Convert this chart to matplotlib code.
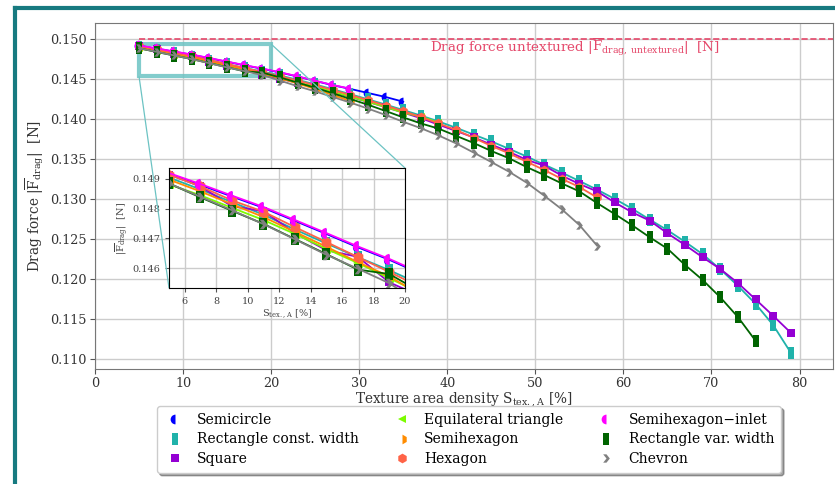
import numpy as np
import matplotlib
matplotlib.use("Agg")
import matplotlib.pyplot as plt
from matplotlib.lines import Line2D
from matplotlib.path import Path
from mpl_toolkits.axes_grid1.inset_locator import mark_inset

plt.rcParams['font.family'] = ['DejaVu Serif']
plt.rcParams['mathtext.fontset'] = 'dejavuserif'

# texture area density values [%]
density = [5, 7, 9, 11, 13, 15, 17, 19, 21, 23, 25, 27, 29, 31, 33, 35, 37, 39,
           41, 43, 45, 47, 49, 51, 53, 55, 57, 59, 61, 63, 65, 67, 69, 71, 73,
           75, 77, 79]

semicircle = [0.14917, 0.14880, 0.14841, 0.14803, 0.14759, 0.14715, 0.14670,
              0.14628, 0.14581, 0.14531, 0.14476, 0.14422, 0.14376, 0.14325,
              0.14275, 0.14216]
rect_const = [0.14905, 0.14865, 0.14822, 0.14780, 0.14730, 0.14683, 0.14637,
              0.14593, 0.14545, 0.14490, 0.14432, 0.14372, 0.14310, 0.14246,
              0.14180, 0.14112, 0.14043, 0.13970, 0.13890, 0.13805, 0.13720,
              0.13628, 0.13532, 0.13430, 0.13330, 0.13225, 0.13118, 0.13002,
              0.12878, 0.12742, 0.12610, 0.12465, 0.12310, 0.12122, 0.11915,
              0.11690, 0.11425, 0.11080]
square = [0.14915, 0.14875, 0.14808, 0.14792, 0.14718, 0.14660, 0.14638,
          0.14552, 0.14505, 0.14452, 0.14396, 0.14338, 0.14277, 0.14214,
          0.14148, 0.14080, 0.14010, 0.13930, 0.13850, 0.13770, 0.13680,
          0.13590, 0.13490, 0.13417, 0.13292, 0.13188, 0.13095, 0.12958,
          0.12833, 0.12729, 0.12571, 0.12425, 0.12271, 0.12125, 0.11950,
          0.11746, 0.11541, 0.11329]
triangle = [0.14882, 0.14845, 0.14803, 0.14762, 0.14715, 0.14665, 0.14617,
            0.14566, 0.14515, 0.14460, 0.14402, 0.14342, 0.14280, 0.14215,
            0.14150, 0.14080, 0.14030, 0.13955]
semihexagon = [0.14898, 0.14858, 0.14815, 0.14772, 0.14722, 0.14672, 0.14620,
               0.14572, 0.14510, 0.14445, 0.14375, 0.14300, 0.14225]
hexagon = [0.14915, 0.14875, 0.14828, 0.14790, 0.14738, 0.14688, 0.14637,
           0.14587, 0.14535, 0.14480, 0.14422, 0.14362, 0.14300, 0.14235,
           0.14168, 0.14098, 0.14025, 0.13945, 0.13863, 0.13765, 0.13663,
           0.13571, 0.13467, 0.13363, 0.13252, 0.13150, 0.13020]
semihex_inlet = [0.14920, 0.14883, 0.14844, 0.14806, 0.14762, 0.14718,
                 0.14673, 0.14631, 0.14584, 0.14534, 0.14479, 0.14425, 0.14379]
rect_var = [0.14885, 0.14838, 0.14793, 0.14749, 0.14698, 0.14647, 0.14595,
            0.14580, 0.14520, 0.14455, 0.14390, 0.14322, 0.14250, 0.14178,
            0.14100, 0.14020, 0.13945, 0.13880, 0.13790, 0.13700, 0.13600,
            0.13510, 0.13400, 0.13300, 0.13195, 0.13095, 0.12950, 0.12813,
            0.12671, 0.12521, 0.12379, 0.12175, 0.11988, 0.11771, 0.11525,
            0.11229]
chevron = [0.14885, 0.14840, 0.14795, 0.14748, 0.14697, 0.14645, 0.14598,
           0.14549, 0.14480, 0.14410, 0.14345, 0.14275, 0.14205, 0.14130,
           0.14050, 0.13965, 0.13885, 0.13795, 0.13695, 0.13580, 0.13462,
           0.13342, 0.13205, 0.13042, 0.12872, 0.12675, 0.12418]

drag_untextured = 0.15005

names = ["Semicircle", "Rectangle const. width", "Square",
         "Equilateral triangle", "Semihexagon", "Hexagon",
         "Semihexagon\u2212inlet", "Rectangle var. width", "Chevron"]

rect_marker = Path([(-0.28, -0.5), (0.28, -0.5), (0.28, 0.5), (-0.28, 0.5), (-0.28, -0.5)],
                   [Path.MOVETO, Path.LINETO, Path.LINETO, Path.LINETO, Path.CLOSEPOLY])
chev_marker = Path([(-0.4, -0.5), (0.0, -0.5), (0.4, 0.0), (0.0, 0.5), (-0.4, 0.5),
                    (0.0, 0.0), (-0.4, -0.5)],
                   [Path.MOVETO] + [Path.LINETO] * 5 + [Path.CLOSEPOLY])

styles = [
    dict(color='blue', marker='o', fillstyle='left', ms=7),
    dict(color='lightseagreen', marker=rect_marker, ms=8),
    dict(color='darkviolet', marker='s', ms=5.5),
    dict(color='lawngreen', marker='<', ms=6),
    dict(color='darkorange', marker='h', fillstyle='right', ms=7),
    dict(color='tomato', marker='h', ms=7),
    dict(color='magenta', marker='o', fillstyle='left', ms=7),
    dict(color='darkgreen', marker=rect_marker, ms=8),
    dict(color='gray', marker=chev_marker, ms=6),
]
series = [semicircle, rect_const, square, triangle, semihexagon, hexagon,
          semihex_inlet, rect_var, chevron]

fig = plt.figure(figsize=(8.35, 4.84), dpi=100)
ax = fig.add_axes([95 / 835, 1 - 369 / 484, (833 - 95) / 835, (369 - 23) / 484])
axins = fig.add_axes([169 / 835, 1 - 288 / 484, (405 - 169) / 835, (288 - 168) / 484])

for a, ms_scale in [(ax, 1.0), (axins, 1.15)]:
    for vals, st in zip(series, styles):
        st = dict(st)
        st['ms'] = st['ms'] * ms_scale
        a.plot(density[:len(vals)], vals, lw=1.3, markerfacecoloralt='none',
               mew=0, **st)

ax.plot([5, 84], [drag_untextured, drag_untextured], ls='--', color='#e5486a', lw=1.2)
ax.text(38, 0.14895, r"Drag force untextured $|\overline{\mathrm{F}}_{\mathrm{drag,\,untextured}}|$  [N]",
        color='#e5486a', fontsize=9.7, va='center')

ax.set_xlim(0, 83.8)
ax.set_ylim(0.10875, 0.1520)
ax.set_xticks([0, 10, 20, 30, 40, 50, 60, 70, 80])
ax.set_yticks([0.110, 0.115, 0.120, 0.125, 0.130, 0.135, 0.140, 0.145, 0.150])
ax.yaxis.set_major_formatter(plt.FormatStrFormatter('%.3f'))
ax.tick_params(labelsize=9.2, color='#555555', labelcolor='#333333', pad=2.5)
ax.grid(True, color='#cccccc', lw=1)
ax.set_axisbelow(True)
ax.set_xlabel(r"Texture area density $\mathrm{S}_{\mathrm{tex.,A}}$ [%]", fontsize=9.8,
              labelpad=0, color='#333333')
ax.set_ylabel(r"Drag force $|\overline{\mathrm{F}}_{\mathrm{drag}}|$  [N]", fontsize=9.8,
              color='#333333', labelpad=3)
for s in ax.spines.values():
    s.set_color('#777777')

axins.set_xlim(5, 20)
axins.set_ylim(0.14533, 0.14937)
axins.set_xticks([6, 8, 10, 12, 14, 16, 18, 20])
axins.set_yticks([0.146, 0.147, 0.148, 0.149])
axins.yaxis.set_major_formatter(plt.FormatStrFormatter('%.3f'))
axins.tick_params(labelsize=7, color='#555555', labelcolor='#444444', length=3)
axins.grid(True, color='#cccccc', lw=1)
axins.set_axisbelow(True)
axins.set_xlabel(r"$\mathrm{S}_{\mathrm{tex.,A}}$ [%]", fontsize=7, labelpad=1, color='#444444')
axins.set_ylabel(r"$|\overline{\mathrm{F}}_{\mathrm{drag}}|$  [N]", fontsize=7, labelpad=1,
                 color='#444444')
axins.set_facecolor('white')

pp, p1, p2 = mark_inset(ax, axins, loc1=1, loc2=3, fc='none', ec='#6cc3c3')
pp.set_linewidth(3)
pp.set_alpha(0.85)
p1.set_linewidth(0.9)
p2.set_linewidth(0.9)

handles = [Line2D([], [], ls='none', markerfacecoloralt='none', mew=0, **st) for st in styles]
fig.legend(handles, names, ncol=3, loc='upper center',
           bbox_to_anchor=(469 / 835, 1 - 399 / 484),
           fontsize=10, shadow=True, handlelength=1.6, columnspacing=2.3,
           labelspacing=0.4, handletextpad=0.8, borderpad=0.5)

# teal frame of the slide
fig.add_artist(Line2D([15 / 835, 1], [1 - 8 / 484, 1 - 8 / 484], color='#177a80', lw=3,
                      transform=fig.transFigure))
fig.add_artist(Line2D([15 / 835, 15 / 835], [0, 1 - 8 / 484], color='#177a80', lw=3,
                      transform=fig.transFigure))

fig.savefig("out.png", dpi=100)
